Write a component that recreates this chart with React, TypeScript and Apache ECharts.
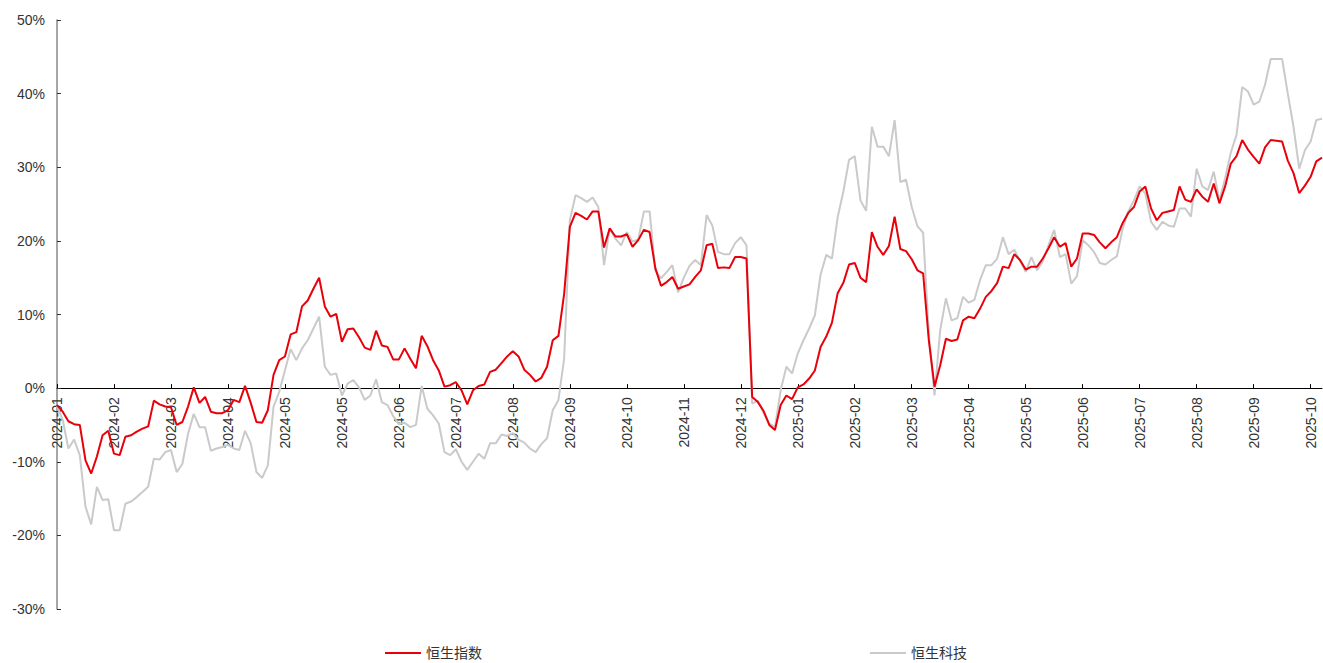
import React, { useEffect, useRef } from "react";
import * as echarts from "echarts";

const tickLabels = [
  "2024-01", "2024-02", "2024-03", "2024-04", "2024-05", "2024-05", "2024-06", "2024-07",
  "2024-08", "2024-09", "2024-10", "2024-11", "2024-12", "2025-01", "2025-02", "2025-03",
  "2025-04", "2025-05", "2025-06", "2025-07", "2025-08", "2025-09", "2025-10",
];

const seriesNames = ["恒生指数", "恒生科技"];

// 恒生指数 cumulative return (%)
const hsi = [
  -2.3, -3.2, -4.5, -4.9, -5.0, -9.8, -11.6, -9.3, -6.4, -5.8,
  -8.9, -9.1, -6.6, -6.4, -5.9, -5.5, -5.2, -1.7, -2.2, -2.5,
  -2.6, -5.0, -4.6, -2.5, 0.1, -2.0, -1.2, -3.2, -3.4, -3.4,
  -3.0, -1.6, -1.9, 0.3, -2.0, -4.6, -4.7, -3.0, 1.8, 3.8,
  4.3, 7.3, 7.6, 11.1, 11.9, 13.5, 15.0, 11.1, 9.7, 10.1,
  6.3, 8.0, 8.1, 6.9, 5.5, 5.2, 7.8, 5.8, 5.6, 3.9,
  3.9, 5.4, 4.0, 2.7, 7.1, 5.7, 3.8, 2.4, 0.2, 0.4,
  0.8, -0.3, -2.2, -0.3, 0.3, 0.5, 2.2, 2.5, 3.4, 4.3,
  5.0, 4.3, 2.5, 1.8, 0.9, 1.4, 2.9, 6.5, 7.1, 12.8,
  21.9, 23.8, 23.4, 22.9, 24.0, 24.0, 19.1, 21.7, 20.6, 20.6,
  20.9, 19.2, 20.1, 21.5, 21.2, 16.3, 13.9, 14.4, 15.1, 13.5,
  13.8, 14.1, 15.1, 16.0, 19.4, 19.6, 16.3, 16.4, 16.3, 17.8,
  17.8, 17.6, -1.2, -1.9, -3.1, -5.0, -5.7, -2.3, -1.0, -1.5,
  0.1, 0.5, 1.3, 2.4, 5.6, 7.0, 8.9, 12.9, 14.3, 16.8,
  17.0, 15.0, 14.4, 21.2, 19.2, 18.1, 19.3, 23.3, 18.9, 18.6,
  17.5, 16.0, 15.6, 6.5, 0.2, 3.1, 6.7, 6.4, 6.6, 9.2,
  9.7, 9.5, 10.8, 12.4, 13.2, 14.3, 16.5, 16.3, 18.2, 17.4,
  16.1, 16.5, 16.5, 17.6, 19.0, 20.5, 19.2, 19.7, 16.5, 17.6,
  21.0, 21.0, 20.8, 19.8, 19.0, 19.8, 20.5, 22.4, 23.8, 24.6,
  26.7, 27.4, 24.4, 22.8, 23.8, 24.0, 24.2, 27.4, 25.6, 25.3,
  27.0, 26.0, 25.3, 27.8, 25.1, 27.4, 30.5, 31.5, 33.7, 32.4,
  31.4, 30.5, 32.7, 33.7, 33.6, 33.5, 30.9, 29.2, 26.5, 27.5,
  28.7, 30.8, 31.3,
];

// 恒生科技 cumulative return (%)
const hstech = [
  -2.4, -4.3, -8.2, -7.0, -9.1, -16.1, -18.5, -13.4, -15.2, -15.1,
  -19.3, -19.3, -15.7, -15.4, -14.8, -14.1, -13.4, -9.6, -9.7, -8.7,
  -8.4, -11.4, -10.3, -6.2, -3.5, -5.3, -5.3, -8.5, -8.2, -8.0,
  -7.7, -8.2, -8.4, -5.8, -7.5, -11.4, -12.2, -10.5, -2.5, -0.5,
  2.4, 5.3, 3.8, 5.4, 6.5, 8.1, 9.7, 2.9, 1.8, 2.0,
  -1.0, 0.6, 1.1, 0.1, -1.6, -1.0, 1.2, -1.9, -2.3, -3.8,
  -4.9, -4.7, -5.3, -5.0, 0.3, -2.8, -3.7, -4.8, -8.7, -9.1,
  -8.3, -10.0, -11.1, -10.0, -8.9, -9.6, -7.5, -7.5, -6.3, -6.5,
  -6.1, -7.0, -7.4, -8.2, -8.7, -7.6, -6.8, -3.0, -1.6, 4.0,
  22.8, 26.2, 25.8, 25.3, 25.9, 24.6, 16.7, 21.7, 20.3, 19.4,
  21.2, 19.9, 20.2, 24.0, 24.0, 16.0, 14.9, 15.8, 16.7, 13.0,
  15.0, 16.6, 17.4, 16.7, 23.5, 22.1, 18.5, 18.2, 18.2, 19.7,
  20.5, 19.4, -2.1, -1.7, -3.4, -4.8, -5.3, -0.3, 2.9, 2.0,
  4.7, 6.5, 8.1, 9.9, 15.4, 18.1, 17.6, 23.2, 26.7, 31.0,
  31.5, 25.5, 24.1, 35.5, 32.8, 32.8, 31.5, 36.4, 28.0, 28.3,
  24.6, 22.0, 21.1, 7.4, -1.0, 7.9, 12.2, 9.2, 9.5, 12.4,
  11.6, 12.0, 14.7, 16.7, 16.7, 17.6, 20.5, 18.2, 18.8, 17.3,
  15.8, 17.8, 16.0, 17.2, 19.4, 21.5, 17.8, 18.2, 14.2, 15.2,
  20.1, 19.4, 18.5, 17.0, 16.8, 17.4, 17.9, 21.6, 24.0, 25.5,
  27.4, 26.4, 22.6, 21.5, 22.6, 22.1, 21.9, 24.4, 24.4, 23.3,
  29.8, 27.4, 26.9, 29.4, 25.5, 28.5, 32.0, 34.4, 40.9, 40.3,
  38.5, 38.9, 41.2, 44.7, 44.7, 44.7, 40.0, 35.5, 29.8, 32.3,
  33.5, 36.4, 36.6,
];

const categories = hsi.map((_, i) => `${tickLabels[Math.floor(i / 10)]}|${i}`);

const FONT = "'Liberation Sans', Arial, 'Noto Sans CJK SC', sans-serif";
const Y_MIN = -30;
const Y_MAX = 50;
const GRID_TOP = 20;
const GRID_BOTTOM = 54;
const HEIGHT = 663;

export default function App() {
  const ref = useRef<HTMLDivElement>(null);

  useEffect(() => {
    document.body.style.margin = "0";
    if (!ref.current) return;
    const plotH = HEIGHT - GRID_TOP - GRID_BOTTOM;
    const zeroOffset = -plotH * (0 - Y_MIN) / (Y_MAX - Y_MIN);
    const chart = echarts.init(ref.current, undefined, { renderer: "svg" });
    chart.setOption({
      animation: false,
      backgroundColor: "#ffffff",
      textStyle: { fontFamily: FONT },
      grid: { left: 57, right: 1, top: GRID_TOP, bottom: GRID_BOTTOM, containLabel: false, outerBoundsMode: "none" },
      legend: {
        data: seriesNames,
        icon: "rect",
        left: 380,
        bottom: 0,
        padding: [2, 5, 2, 5],
        itemWidth: 36,
        itemHeight: 2,
        itemGap: 388,
        textStyle: { fontSize: 14, color: "#333", fontFamily: FONT, lineHeight: 16 },
      },
      xAxis: {
        type: "category",
        data: categories,
        boundaryGap: false,
        offset: zeroOffset,
        axisLine: { onZero: false, lineStyle: { color: "#000", width: 1 } },
        axisTick: { show: true, inside: true, interval: 9, length: 4, lineStyle: { color: "#000" } },
        axisLabel: {
          interval: 9,
          rotate: 90,
          margin: 9,
          fontSize: 14,
          color: "#333",
          fontFamily: FONT,
          formatter: (v: string) => v.split("|")[0],
        },
        splitLine: { show: false },
      },
      yAxis: {
        type: "value",
        min: Y_MIN,
        max: Y_MAX,
        interval: 10,
        axisLine: { show: true, lineStyle: { color: "#888", width: 1.5 } },
        axisTick: { show: true, inside: true, length: 4, lineStyle: { color: "#333" } },
        axisLabel: { formatter: "{value}%", fontSize: 14, color: "#333", margin: 12, fontFamily: FONT },
        splitLine: { show: false },
      },
      series: [
        {
          name: seriesNames[0],
          type: "line",
          data: hsi,
          symbol: "none",
          z: 3,
          lineStyle: { color: "#e8000b", width: 2 },
          itemStyle: { color: "#e8000b" },
        },
        {
          name: seriesNames[1],
          type: "line",
          data: hstech,
          symbol: "none",
          z: 2,
          lineStyle: { color: "#cacaca", width: 2 },
          itemStyle: { color: "#cacaca" },
        },
      ],
    });
    return () => chart.dispose();
  }, []);

  return (
    <div
      ref={ref}
      style={{ position: "absolute", left: 0, top: 0, width: 1323, height: 663 }}
    />
  );
}
